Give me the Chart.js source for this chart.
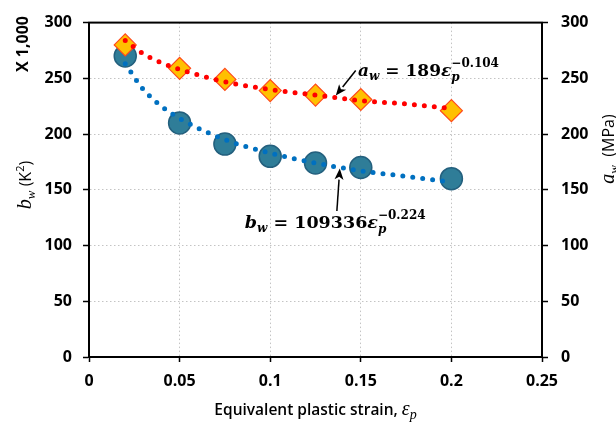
<!DOCTYPE html>
<html>
<head>
<meta charset="utf-8">
<script src="https://cdn.jsdelivr.net/npm/chart.js@4/dist/chart.umd.min.js"></script>
<style>
  html, body { margin: 0; padding: 0; background: #fff; }
  #wrap { width: 616px; height: 430px; position: relative; }
</style>
</head>
<body>
<div id="wrap"><canvas id="c" width="616" height="430"></canvas></div>
<script>
// ---- data ----
const strain = [0.02, 0.05, 0.075, 0.1, 0.125, 0.15, 0.2];
const bwValues = [270, 210, 191, 180, 174, 170, 160];      // b_w, x1000 K^2 (left axis)
const awValues = [280, 259, 249, 239, 235, 231, 221];      // a_w, MPa (right axis)

// trendline points
const trendStrain = [0.02, 0.03, 0.04, 0.05, 0.075, 0.1, 0.125, 0.15, 0.175, 0.2];
const bwTrend = [263, 240, 225, 214, 195, 183, 174, 167, 162, 157];
const awTrend = [284, 272, 264, 258, 247, 240, 235, 230, 227, 223];

const xTickLabels = ['0', '0.05', '0.1', '0.15', '0.2', '0.25'];
const yTickLabels = ['0', '50', '100', '150', '200', '250', '300'];

const toXY = (xs, ys) => xs.map((x, i) => ({ x: x, y: ys[i] }));

const tickFont = { family: 'Open Sans', size: 16, weight: 'bold' };
const serif = 'Liberation Serif';
const eqSerif = '"DejaVu Serif"';

// rich text helper: segments {t, font, dy, stack:'start'|'end'}
function richWidth(ctx, segs) {
  let x = 0, stackX = null, stackEnd = 0;
  segs.forEach(s => {
    ctx.font = s.font;
    const w = ctx.measureText(s.t).width;
    if (s.stack === 'start') { stackX = x; x += w; stackEnd = x; }
    else if (s.stack === 'end') { x = Math.max(stackEnd, stackX + w); }
    else x += w;
  });
  return x;
}
function drawRich(ctx, segs, x0, y0, align, rot) {
  ctx.save();
  ctx.translate(x0, y0);
  if (rot) ctx.rotate(rot);
  const total = richWidth(ctx, segs);
  let x = align === 'center' ? -total / 2 : 0, stackX = null, stackEnd = 0;
  ctx.textBaseline = 'alphabetic';
  ctx.textAlign = 'left';
  segs.forEach(s => {
    ctx.font = s.font;
    ctx.fillStyle = '#000';
    const w = ctx.measureText(s.t).width;
    if (s.stack === 'end') {
      ctx.fillText(s.t, stackX, s.dy || 0);
      x = Math.max(stackEnd, stackX + w);
    } else {
      ctx.fillText(s.t, x, s.dy || 0);
      if (s.stack === 'start') { stackX = x; stackEnd = x + w; }
      x += w;
    }
  });
  ctx.restore();
  return total;
}
function arrow(ctx, x1, y1, x2, y2) {
  const ang = Math.atan2(y2 - y1, x2 - x1);
  const hl = 11, hw = 4.5;
  const bx = x2 - hl * Math.cos(ang), by = y2 - hl * Math.sin(ang);
  ctx.save();
  ctx.strokeStyle = '#000';
  ctx.fillStyle = '#000';
  ctx.lineWidth = 1.5;
  ctx.beginPath();
  ctx.moveTo(x1, y1);
  ctx.lineTo(bx, by);
  ctx.stroke();
  ctx.beginPath();
  ctx.moveTo(x2, y2);
  ctx.lineTo(bx + hw * Math.sin(ang), by - hw * Math.cos(ang));
  ctx.lineTo(bx + (hl * 0.25) * Math.cos(ang), by + (hl * 0.25) * Math.sin(ang));
  ctx.lineTo(bx - hw * Math.sin(ang), by + hw * Math.cos(ang));
  ctx.closePath();
  ctx.fill();
  ctx.restore();
}

const decor = {
  id: 'decor',
  beforeDatasetsDraw(chart) {
    const { ctx, chartArea: a } = chart;
    ctx.save();
    ctx.strokeStyle = '#000';
    ctx.lineWidth = 2;
    ctx.strokeRect(a.left, a.top, a.right - a.left, a.bottom - a.top);
    ctx.restore();
  },
  afterDraw(chart) {
    const { ctx, chartArea: a } = chart;
    const xs = chart.scales.x, yl = chart.scales.y, yr = chart.scales.y2;
    // axis titles
    drawRich(ctx, [{ t: 'X 1,000', font: 'bold 16px "Open Sans"' }], 28, 44, 'center', -Math.PI / 2);
    drawRich(ctx, [
      { t: 'b', font: 'italic 20px ' + serif },
      { t: 'w', font: 'italic 13px ' + serif, dy: 4 },
      { t: ' (K', font: '16px "Open Sans"' },
      { t: '2', font: '11px "Open Sans"', dy: -7 },
      { t: ')', font: '16px "Open Sans"' }
    ], 31, 185, 'center', -Math.PI / 2);
    drawRich(ctx, [
      { t: 'a', font: 'italic 20px ' + serif },
      { t: 'w', font: 'italic 13px ' + serif, dy: 4 },
      { t: '  (MPa)', font: '16px "Open Sans"' }
    ], 614, 149, 'center', -Math.PI / 2);
    drawRich(ctx, [
      { t: 'Equivalent plastic strain, ', font: '600 15.5px "Open Sans"' },
      { t: 'ε', font: 'italic 20px ' + serif },
      { t: 'p', font: 'italic 14px ' + serif, dy: 4 }
    ], (a.left + a.right) / 2, 415, 'center', 0);

    // annotations (anchored to scale values)
    const px = v => xs.getPixelForValue(v);
    // a_w equation
    arrow(ctx, px(0.1472), yr.getPixelForValue(257), px(0.1362), yr.getPixelForValue(234.5));
    drawRich(ctx, [
      { t: 'a', font: 'bold italic 17px ' + eqSerif },
      { t: 'w', font: 'bold italic 12px ' + eqSerif, dy: 4 },
      { t: ' = 189', font: 'bold 17px ' + eqSerif },
      { t: 'ε', font: 'bold italic 17px ' + eqSerif },
      { t: 'p', font: 'bold italic 12px ' + eqSerif, dy: 5, stack: 'start' },
      { t: '−0.104', font: 'bold 12px ' + eqSerif, dy: -9, stack: 'end' }
    ], px(0.1485), yr.getPixelForValue(252), 'left', 0);
    // b_w equation
    arrow(ctx, px(0.1368), yl.getPixelForValue(131), px(0.1384), yl.getPixelForValue(169));
    drawRich(ctx, [
      { t: 'b', font: 'bold italic 17.5px ' + eqSerif },
      { t: 'w', font: 'bold italic 12px ' + eqSerif, dy: 4 },
      { t: ' = 109336', font: 'bold 17.5px ' + eqSerif },
      { t: 'ε', font: 'bold italic 17.5px ' + eqSerif },
      { t: 'p', font: 'bold italic 12px ' + eqSerif, dy: 5, stack: 'start' },
      { t: '−0.224', font: 'bold 12px ' + eqSerif, dy: -9, stack: 'end' }
    ], px(0.0860), yl.getPixelForValue(116), 'left', 0);
  }
};

const gridDots = '#c4c4c4';

new Chart(document.getElementById('c'), {
  type: 'scatter',
  data: {
    datasets: [
      {
        label: 'a_w trend', data: toXY(trendStrain, awTrend), yAxisID: 'y2',
        showLine: true, pointRadius: 0, borderColor: '#ff0000', borderWidth: 5,
        borderDash: [0, 10], borderCapStyle: 'round', cubicInterpolationMode: 'monotone', order: 0
      },
      {
        label: 'b_w trend', data: toXY(trendStrain, bwTrend), yAxisID: 'y',
        showLine: true, pointRadius: 0, borderColor: '#0070c0', borderWidth: 5,
        borderDash: [0, 10], borderCapStyle: 'round', cubicInterpolationMode: 'monotone', order: 1
      },
      {
        label: 'a_w', data: toXY(strain, awValues), yAxisID: 'y2',
        pointStyle: 'rectRot', pointRadius: 11, pointHoverRadius: 11,
        backgroundColor: '#ffc000', borderColor: '#ff4a1a', borderWidth: 1.2, order: 2
      },
      {
        label: 'b_w', data: toXY(strain, bwValues), yAxisID: 'y',
        pointStyle: 'circle', pointRadius: 11, pointHoverRadius: 11,
        backgroundColor: '#2f7d98', borderColor: '#24607e', borderWidth: 1.5, order: 3
      }
    ]
  },
  options: {
    responsive: false,
    animation: false,
    events: [],
    layout: { padding: { top: 13, left: 0, right: 0, bottom: 0 } },
    plugins: { legend: { display: false }, tooltip: { enabled: false } },
    scales: {
      x: {
        type: 'linear', min: 0, max: 0.25,
        ticks: {
          stepSize: 0.05, color: '#000', font: tickFont, padding: 10, maxRotation: 0,
          callback: (v, i) => xTickLabels[i]
        },
        grid: {
          color: gridDots, lineWidth: 1, tickColor: '#000', tickLength: 5, tickWidth: 1.5,
          tickBorderDash: []
        },
        border: { display: true, color: '#000', width: 2, dash: [1.5, 2.5] },
        afterFit: s => { s.height = 73; }
      },
      y: {
        position: 'left', min: 0, max: 300,
        ticks: {
          stepSize: 50, color: '#000', font: tickFont, padding: 11,
          callback: (v, i) => yTickLabels[i]
        },
        grid: {
          color: gridDots, lineWidth: 1, tickColor: '#000', tickLength: 6, tickWidth: 1.5,
          tickBorderDash: []
        },
        border: { display: true, color: '#000', width: 2, dash: [1.5, 2.5] },
        afterFit: s => { s.width = 89; }
      },
      y2: {
        position: 'right', min: 0, max: 300,
        ticks: {
          stepSize: 50, color: '#000', font: tickFont, padding: 13,
          callback: (v, i) => yTickLabels[i]
        },
        grid: {
          drawOnChartArea: false, color: gridDots, tickColor: '#000', tickLength: 6, tickWidth: 1.5,
          tickBorderDash: []
        },
        border: { display: true, color: '#000', width: 2 },
        afterFit: s => { s.width = 74; }
      }
    }
  },
  plugins: [decor]
});
</script>
</body>
</html>
